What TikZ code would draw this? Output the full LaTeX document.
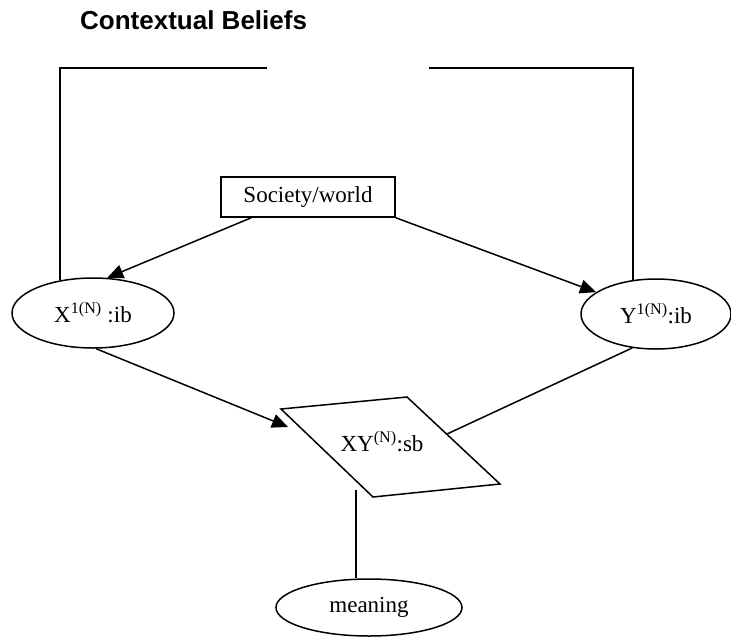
\documentclass[tikz,border=0pt]{standalone}
\usepackage{fontspec}
\setmainfont{Liberation Serif}
\newfontfamily\titrefont{Liberation Sans}
\usetikzlibrary{arrows.meta,shapes.geometric}

\tikzset{
  trait/.style={line width=1.5pt},
  fleche/.style={trait,-{Triangle[length=16pt,width=14pt]}},
  bulle/.style={draw,ellipse,line width=1.5pt,inner sep=0pt}
}

\begin{document}
\begin{tikzpicture}[x=1pt,y=-1pt,font=\fontsize{23}{27}\selectfont]
        % Cadre de la figure (en pixels)
        \useasboundingbox (0,0) rectangle (731,638);

        % Titre
        \node[anchor=base west,inner sep=0pt,font=\titrefont\bfseries\fontsize{26}{30}\selectfont] (titre) at (80,29) {Contextual Beliefs};

        % Les noeuds
        \node[draw,trait,minimum width=174pt,minimum height=40pt] (monde) at (308,197) {Society/world};
        \node[bulle,minimum width=162pt,minimum height=70pt] (X) at (93,313) {X\textsuperscript{1(N)} :ib\hspace{20pt}};
        \node[bulle,minimum width=150pt,minimum height=70pt] (Y) at (656,314) {Y\textsuperscript{1(N)}:ib\hspace{16pt}};
        \node[bulle,minimum width=186pt,minimum height=57pt] (sens) at (369,607.5) {meaning};

        % Le parallelogramme des croyances partagees
        \coordinate (p1) at (281,409);
        \coordinate (p2) at (407,397);
        \coordinate (p3) at (500,484);
        \coordinate (p4) at (373,497);
        \draw[trait] (p1) -- (p2) -- (p3) -- (p4) -- cycle;
        \node (XY) at (382,442) {XY\textsuperscript{(N)}:sb};
        \coordinate (XYg) at (288,427);
        \coordinate (XYd) at (447,434);
        \coordinate (XYb) at (356,490);

        % Le cadre ouvert du contexte
        \coordinate (hg) at (60,68);
        \coordinate (hg2) at (267,68);
        \coordinate (hd) at (633,68);
        \coordinate (hd2) at (429,68);
        \draw[trait] (hg2) -- (hg) -- (hg |- X.136);
        \draw[trait] (hd2) -- (hd) -- (hd |- Y.125);

        % Les liens
        \draw[fleche] ([xshift=31pt]monde.south west) -- (X.68);
        \draw[fleche] (monde.south east) -- (Y.160);
        \draw[fleche] (X.275) -- (XYg);
        \draw[trait] (Y.235) -- (XYd);
        \draw[trait] (XYb) -- (XYb |- sens.north);
\end{tikzpicture}
\end{document}
